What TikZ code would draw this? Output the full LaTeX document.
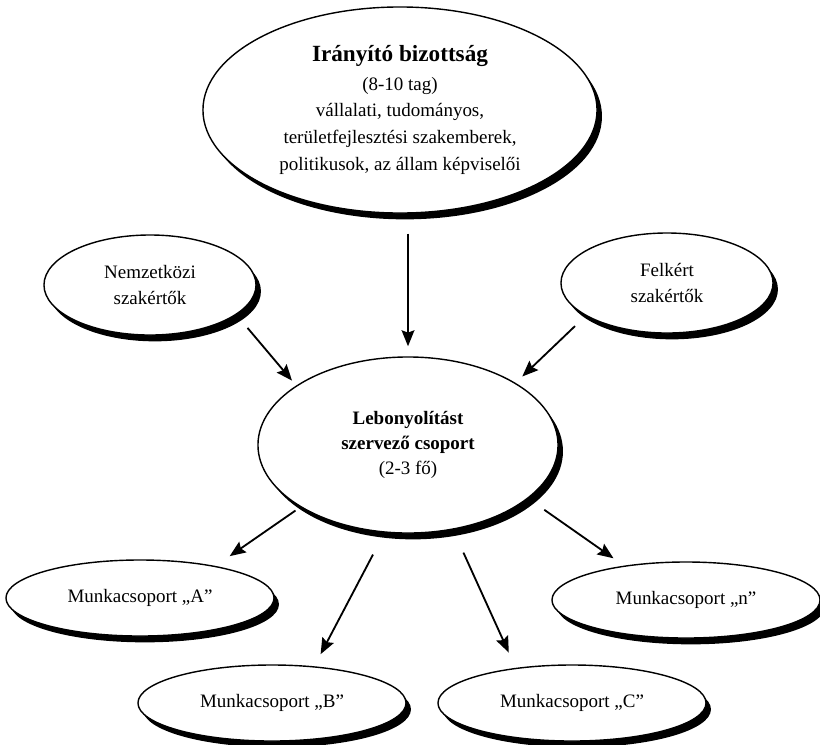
\documentclass[tikz,border=0pt]{standalone}
\usepackage{fontspec}
\setmainfont{Liberation Serif}
\usetikzlibrary{arrows.meta,shapes.geometric,shadows}

\begin{document}
\begin{tikzpicture}[x=0.025cm, y=-0.025cm,
  tojas/.style={draw, ellipse, line width=1pt, fill=white, inner sep=0pt, align=center, font=\fontsize{13.5}{18}\selectfont, drop shadow={shadow xshift=3.5pt, shadow yshift=-4.5pt, fill=black, opacity=1}},
  szakerto/.style={tojas, minimum width=5.3cm, minimum height=2.5cm},
  munka/.style={tojas, minimum width=6.7cm, minimum height=1.9cm},
  nyil/.style={-{Stealth[length=4mm, width=3.2mm, inset=0.6mm]}, line width=1.3pt}
]
\useasboundingbox (0,0) rectangle (820,744);
\node[tojas, minimum width=9.85cm, minimum height=5.15cm, font=\fontsize{13.5}{19}\selectfont] (iranyito) at (400,110) {{\fontsize{16.5}{20}\selectfont\bfseries Irányító bizottság}\\[1pt](8-10 tag)\\vállalati, tudományos,\\területfejlesztési szakemberek,\\politikusok, az állam képviselői};
\node[szakerto] (nemzetkozi) at (150,285) {Nemzetközi\\szakértők};
\node[szakerto] (felkert) at (667,283) {Felkért\\szakértők};
\node[tojas, minimum width=7.5cm, minimum height=4.4cm] (lebonyolito) at (408,445) {\textbf{Lebonyolítást}\\\textbf{szervező csoport}\\(2-3 fő)};
\node[munka] (munkaA) at (140,598) {Munkacsoport „A”};
\node[munka] (munkaN) at (686,600) {Munkacsoport „n”};
\node[munka] (munkaB) at (272,703) {Munkacsoport „B”};
\node[munka] (munkaC) at (572,703) {Munkacsoport „C”};
\draw[nyil, shorten <=0.5cm, shorten >=0.25cm] (iranyito.south -| lebonyolito.north) -- (lebonyolito.north);
\draw[nyil, shorten <=0.43cm, shorten >=0.16cm] (nemzetkozi.-19) -- (lebonyolito.152);
\draw[nyil, shorten <=0.37cm, shorten >=0.23cm] (felkert.202) -- (lebonyolito.30);
\draw[nyil, shorten <=0.15cm, shorten >=0.43cm] (lebonyolito.210) -- (munkaA.23);
\draw[nyil, shorten <=0.62cm, shorten >=0.34cm] (lebonyolito.255) -- (munkaB.41);
\draw[nyil, shorten <=0.63cm, shorten >=0.42cm] (lebonyolito.-62) -- (munkaC.148);
\draw[nyil, shorten <=0.49cm, shorten >=0.32cm] (lebonyolito.-24) -- (munkaN.151);
\end{tikzpicture}
\end{document}
